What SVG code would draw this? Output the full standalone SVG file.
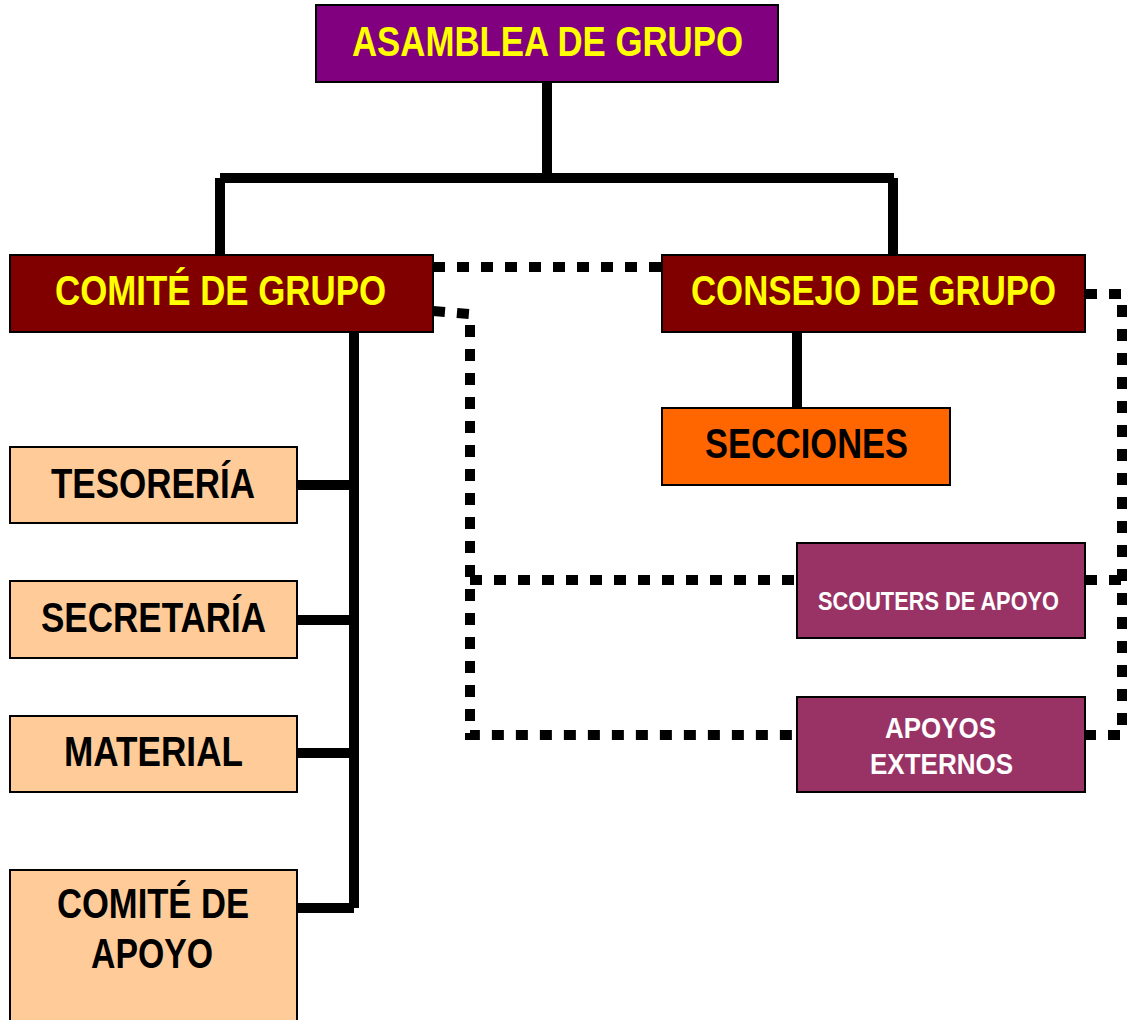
<svg xmlns="http://www.w3.org/2000/svg" width="1128" height="1020" viewBox="0 0 1128 1020">
<style>
.b{stroke:#000;stroke-width:2}
.t{font-family:"Liberation Sans",Arial,sans-serif;font-weight:bold;text-anchor:middle;font-size:42px}
.s{fill:none;stroke:#000;stroke-width:10}
.d{fill:none;stroke:#000;stroke-width:10;stroke-dasharray:12 12}
</style>
<rect width="1128" height="1020" fill="#fff"/>
<g id="connectors">
<path class="s" d="M547 82V178M220 178H894M220 178V255M893 178V255"/>
<path class="s" d="M797 332V408"/>
<path class="s" d="M354 332V908M297 485H354M297 620H354M297 753H354M297 908H354"/>
<path class="d" d="M433 267H662"/>
<path class="d" d="M433 311L470 314V735H797M470 580H797"/>
<path class="d" d="M1085 294H1122V735H1085M1085 580H1122"/>
</g>
<g id="asamblea"><rect class="b" x="316" y="5" width="462" height="77" fill="#800080"/><text class="t" x="547.5" y="56" fill="#FFFF00" textLength="391" lengthAdjust="spacingAndGlyphs">ASAMBLEA DE GRUPO</text></g>
<g id="comite"><rect class="b" x="10" y="255" width="423" height="77" fill="#800000"/><text class="t" x="220.5" y="305" fill="#FFFF00" textLength="331" lengthAdjust="spacingAndGlyphs">COMITÉ DE GRUPO</text></g>
<g id="consejo"><rect class="b" x="662" y="255" width="423" height="77" fill="#800000"/><text class="t" x="873.5" y="305" fill="#FFFF00" textLength="365" lengthAdjust="spacingAndGlyphs">CONSEJO DE GRUPO</text></g>
<g id="secciones"><rect class="b" x="662" y="408" width="288" height="77" fill="#FF6600"/><text class="t" x="806.5" y="458" fill="#000" textLength="203" lengthAdjust="spacingAndGlyphs">SECCIONES</text></g>
<g id="scouters"><rect class="b" x="797" y="543" width="288" height="95" fill="#993366"/><text class="t" x="938.5" y="610" style="font-size:26px" fill="#fff" textLength="241" lengthAdjust="spacingAndGlyphs">SCOUTERS DE APOYO</text></g>
<g id="apoyos"><rect class="b" x="797" y="697" width="288" height="95" fill="#993366"/><text class="t" x="940.5" y="738" style="font-size:30px" fill="#fff" textLength="111" lengthAdjust="spacingAndGlyphs">APOYOS</text><text class="t" x="941.5" y="774" style="font-size:30px" fill="#fff" textLength="143" lengthAdjust="spacingAndGlyphs">EXTERNOS</text></g>
<g id="tesoreria"><rect class="b" x="10" y="447" width="287" height="76" fill="#FFCC99"/><text class="t" x="153" y="498" fill="#000" textLength="204" lengthAdjust="spacingAndGlyphs">TESORERÍA</text></g>
<g id="secretaria"><rect class="b" x="10" y="581" width="287" height="77" fill="#FFCC99"/><text class="t" x="153.5" y="632" fill="#000" textLength="225" lengthAdjust="spacingAndGlyphs">SECRETARÍA</text></g>
<g id="material"><rect class="b" x="10" y="716" width="287" height="76" fill="#FFCC99"/><text class="t" x="153.5" y="766" fill="#000" textLength="179" lengthAdjust="spacingAndGlyphs">MATERIAL</text></g>
<g id="comite-apoyo"><rect class="b" x="10" y="870" width="287" height="160" fill="#FFCC99"/><text class="t" x="153" y="918" fill="#000" textLength="192" lengthAdjust="spacingAndGlyphs">COMITÉ DE</text><text class="t" x="152" y="968" fill="#000" textLength="122" lengthAdjust="spacingAndGlyphs">APOYO</text></g>
</svg>
